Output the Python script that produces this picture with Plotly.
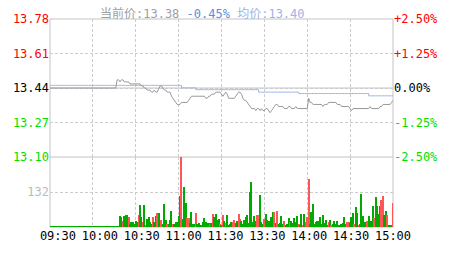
import plotly.graph_objects as go

# ---------------- data ----------------
prev_close = 13.44
minutes = list(range(241))
time_labels = ["09:30", "10:00", "10:30", "11:00", "11:30", "13:30", "14:00", "14:30", "15:00"]
time_ticks = [0, 30, 60, 90, 120, 150, 180, 210, 240]
pct_ticks = [2.5, 1.25, 0.0, -1.25, -2.5]
vol_max = 264

price = [
    13.44, 13.44, 13.44, 13.44, 13.44, 13.44, 13.44, 13.44, 13.44, 13.44,
    13.44, 13.44, 13.44, 13.44, 13.44, 13.44, 13.44, 13.44, 13.44, 13.44,
    13.44, 13.44, 13.44, 13.44, 13.44, 13.44, 13.44, 13.44, 13.44, 13.44,
    13.44, 13.44, 13.44, 13.44, 13.44, 13.44, 13.44, 13.44, 13.44, 13.44,
    13.44, 13.44, 13.44, 13.44, 13.44, 13.44, 13.44, 13.48, 13.48, 13.47,
    13.48, 13.48, 13.47, 13.47, 13.47, 13.47, 13.46, 13.46, 13.46, 13.46,
    13.46, 13.46, 13.46, 13.46, 13.45, 13.45, 13.44, 13.44, 13.43, 13.43,
    13.43, 13.42, 13.42, 13.43, 13.42, 13.42, 13.44, 13.45, 13.45, 13.44,
    13.43, 13.43, 13.42, 13.42, 13.42, 13.40, 13.39, 13.38, 13.37, 13.36,
    13.36, 13.36, 13.37, 13.37, 13.37, 13.37, 13.37, 13.38, 13.39, 13.40,
    13.40, 13.40, 13.40, 13.40, 13.40, 13.40, 13.40, 13.40, 13.40, 13.39,
    13.39, 13.40, 13.40, 13.41, 13.41, 13.41, 13.42, 13.42, 13.42, 13.42,
    13.41, 13.40, 13.41, 13.42, 13.41, 13.39, 13.39, 13.39, 13.39, 13.39,
    13.40, 13.41, 13.42, 13.42, 13.41, 13.39, 13.38, 13.38, 13.37, 13.36,
    13.35, 13.34, 13.34, 13.34, 13.33, 13.34, 13.34, 13.33, 13.34, 13.33,
    13.33, 13.34, 13.34, 13.33, 13.32, 13.33, 13.34, 13.35, 13.36, 13.36,
    13.35, 13.35, 13.35, 13.35, 13.34, 13.34, 13.34, 13.35, 13.35, 13.34,
    13.34, 13.34, 13.35, 13.34, 13.34, 13.34, 13.34, 13.34, 13.34, 13.34,
    13.34, 13.39, 13.37, 13.37, 13.36, 13.36, 13.36, 13.36, 13.36, 13.36,
    13.36, 13.35, 13.36, 13.36, 13.36, 13.37, 13.37, 13.37, 13.37, 13.37,
    13.37, 13.36, 13.36, 13.36, 13.35, 13.35, 13.35, 13.35, 13.35, 13.35,
    13.34, 13.33, 13.34, 13.34, 13.34, 13.34, 13.34, 13.34, 13.34, 13.34,
    13.34, 13.34, 13.34, 13.34, 13.35, 13.34, 13.34, 13.34, 13.34, 13.34,
    13.34, 13.35, 13.35, 13.36, 13.36, 13.36, 13.36, 13.36, 13.36, 13.37,
    13.38,
]

avg_price = [
    13.453, 13.453, 13.453, 13.453, 13.453, 13.453, 13.453, 13.453, 13.453, 13.453,
    13.453, 13.453, 13.453, 13.453, 13.453, 13.453, 13.453, 13.453, 13.453, 13.453,
    13.453, 13.453, 13.453, 13.453, 13.453, 13.453, 13.453, 13.453, 13.453, 13.453,
    13.453, 13.453, 13.453, 13.453, 13.453, 13.453, 13.453, 13.453, 13.453, 13.453,
    13.453, 13.453, 13.453, 13.453, 13.453, 13.453, 13.453, 13.453, 13.453, 13.453,
    13.453, 13.453, 13.453, 13.453, 13.453, 13.453, 13.453, 13.453, 13.453, 13.453,
    13.453, 13.453, 13.453, 13.453, 13.453, 13.453, 13.453, 13.453, 13.453, 13.453,
    13.453, 13.453, 13.453, 13.453, 13.453, 13.453, 13.453, 13.453, 13.453, 13.453,
    13.453, 13.453, 13.453, 13.453, 13.453, 13.453, 13.453, 13.453, 13.453, 13.453,
    13.453, 13.453, 13.441, 13.441, 13.441, 13.441, 13.441, 13.441, 13.441, 13.441,
    13.441, 13.441, 13.432, 13.432, 13.432, 13.432, 13.432, 13.432, 13.432, 13.432,
    13.432, 13.432, 13.432, 13.432, 13.432, 13.432, 13.432, 13.432, 13.432, 13.432,
    13.432, 13.432, 13.432, 13.432, 13.432, 13.432, 13.432, 13.432, 13.432, 13.432,
    13.432, 13.432, 13.432, 13.432, 13.432, 13.432, 13.432, 13.432, 13.432, 13.432,
    13.432, 13.432, 13.432, 13.432, 13.432, 13.432, 13.420, 13.420, 13.420, 13.420,
    13.420, 13.420, 13.420, 13.420, 13.420, 13.420, 13.420, 13.420, 13.420, 13.420,
    13.420, 13.420, 13.420, 13.420, 13.420, 13.420, 13.420, 13.420, 13.420, 13.420,
    13.420, 13.420, 13.420, 13.420, 13.413, 13.413, 13.413, 13.413, 13.413, 13.413,
    13.413, 13.413, 13.413, 13.413, 13.413, 13.413, 13.413, 13.413, 13.413, 13.413,
    13.413, 13.413, 13.413, 13.413, 13.413, 13.413, 13.413, 13.413, 13.413, 13.413,
    13.413, 13.413, 13.413, 13.413, 13.413, 13.413, 13.413, 13.413, 13.413, 13.413,
    13.413, 13.413, 13.413, 13.413, 13.413, 13.413, 13.413, 13.413, 13.413, 13.413,
    13.413, 13.413, 13.413, 13.402, 13.402, 13.402, 13.402, 13.402, 13.402, 13.402,
    13.402, 13.402, 13.402, 13.402, 13.402, 13.402, 13.402, 13.402, 13.402, 13.402,
    13.402,
]

volume = [
    3, 3, 3, 3, 3, 3, 3, 3, 3, 3,
    3, 3, 3, 3, 3, 3, 3, 3, 3, 3,
    3, 3, 3, 3, 3, 3, 3, 3, 3, 3,
    3, 3, 3, 3, 3, 3, 3, 3, 3, 3,
    3, 3, 3, 3, 3, 3, 3, 3, 3,
    42, 36, 24, 42, 45, 45, 38, 10, 20, 20,
    10, 24, 20, 45, 82, 36, 20, 82, 6, 30,
    36, 18, 10, 38, 18, 40, 54, 54, 12, 28,
    10, 86, 28, 10, 10, 28, 60, 12, 10, 20,
    18, 42, 118, 264, 30, 150, 92, 34, 34, 14,
    56, 10, 12, 52, 12, 16, 8, 8, 20, 34,
    18, 14, 16, 10, 14, 48, 38, 48, 28, 30,
    12, 6, 44, 24, 16, 44, 6, 10, 20, 18,
    28, 16, 24, 48, 30, 24, 12, 28, 36, 45,
    16, 132, 168, 20, 42, 24, 44, 44, 120,
    20, 12, 30, 48, 28, 24, 20, 38, 56, 56,
    16, 60, 12, 16, 42, 10, 24, 6, 10, 35,
    18, 24, 16, 32, 20, 42, 12, 6, 48, 6,
    48, 20, 36, 182, 12, 58, 88, 10, 20, 24,
    24, 38, 10, 45, 16, 28, 6, 20, 28, 6,
    12, 24, 10, 24, 8, 8, 10, 14, 36, 12, 20,
    18, 16, 36, 54, 12, 74, 54, 8, 10, 126,
    40, 18, 18, 24, 42, 18, 24, 78, 32, 112,
    78, 48, 80, 100, 118, 45, 60, 45, 4, 4, 4, 90,
]

# 'r' = up tick (red), 'g' = down/flat tick (green)
vol_dir = (
    "g" * 49
    + "ggrgggrggg" + "gggrggrgrg" + "gggrggrggr" + "gggrgggrgg" + "gggrgggrrg"
    + "gggrgggggg" + "gggrgrgggg" + "rgrgrggggr" + "rggrrggggg" + "ggggggrrg"
    + "ggrggggggr" + "grggggrggg" + "rgggggrggr" + "grrrgggggg" + "gggggggrgr"
    + "ggggggggggr" + "rgggrggrgg" + "gggrggggrg" + "gggrrggrgggr"
)

# ---------------- derived ----------------
up_color, down_color = "#ff5555", "#00aa00"
bar_colors = [up_color if d == "r" else down_color for d in vol_dir]
last_price = price[-1]
last_pct = (last_price - prev_close) / prev_close * 100
last_avg = avg_price[-1]

price_ticks = [prev_close * (1 + p / 100) for p in pct_ticks]
red, green, black = "#ff0000", "#00e000", "#000000"
def tick_color(p):
    return red if p > 0 else (green if p < 0 else black)
left_text = [f"<span style='color:{tick_color(p)}'>{v:.2f}</span>" for p, v in zip(pct_ticks, price_ticks)]
right_text = [
    f"<span style='color:{tick_color(p)}'>{'+' if p > 0 else ''}{p:.2f}%</span>" for p in pct_ticks
]

vol_frac = 74 / 220  # share of plot height taken by the volume pane
grid_col = "#cccccc"
font_family = "DejaVu Sans Mono, Noto Sans CJK SC"

fig = go.Figure()
fig.add_trace(go.Bar(
    x=minutes, y=volume, marker=dict(color=bar_colors, line=dict(width=0)),
    width=0.85, xaxis="x", yaxis="y2", hoverinfo="skip",
))
fig.add_trace(go.Scatter(
    x=minutes, y=avg_price, mode="lines", line=dict(color="#9bb5e8", width=1, shape="hv"),
    xaxis="x2", yaxis="y", hoverinfo="skip",
))
fig.add_trace(go.Scatter(
    x=minutes, y=price, mode="lines", line=dict(color="#999999", width=1),
    xaxis="x2", yaxis="y", hoverinfo="skip",
))
fig.add_trace(go.Scatter(x=[None], y=[None], xaxis="x3", yaxis="y2", hoverinfo="skip"))
fig.add_trace(go.Scatter(x=[None], y=[None], xaxis="x2", yaxis="y3", hoverinfo="skip"))

common_x = dict(range=[0, 240], tickvals=time_ticks, showticklabels=False, showgrid=True,
                gridcolor=grid_col, griddash="3px,2px", gridwidth=1, zeroline=False,
                showline=False, ticks="", fixedrange=True)

fig.update_layout(
    width=463, height=255,
    margin=dict(l=50, r=70, t=12, b=23),
    paper_bgcolor="white", plot_bgcolor="white",
    showlegend=False, bargap=0,
    font=dict(family=font_family, size=12, color="#000000"),
    xaxis=dict(domain=[0, 1], anchor="y2", **common_x),
    xaxis2=dict(domain=[0, 1], anchor="y", matches="x", **common_x),
    xaxis3=dict(overlaying="x", anchor="y2", side="bottom", range=[-5.7, 240],
                tickvals=time_ticks, ticktext=time_labels, showgrid=False, zeroline=False,
                showline=False, ticks="", tickfont=dict(color="#000000", size=12)),
    yaxis=dict(domain=[vol_frac, 1], anchor="x2", range=[price_ticks[-1], price_ticks[0]],
               tickvals=price_ticks, ticktext=left_text, showgrid=True, gridcolor=grid_col,
               griddash="3px,2px", zeroline=False, showline=False, ticks=""),
    yaxis2=dict(domain=[0, vol_frac], anchor="x", range=[0, vol_max],
                tickvals=[vol_max / 2], ticktext=[f"{vol_max // 2}"],
                tickfont=dict(color="#bbbbbb"), showgrid=True, gridcolor=grid_col,
                griddash="3px,2px", zeroline=False, showline=False, ticks=""),
    yaxis3=dict(overlaying="y", anchor="x2", side="right", range=[pct_ticks[-1], pct_ticks[0]],
                tickvals=pct_ticks, ticktext=right_text, showgrid=False, zeroline=False,
                showline=False, ticks=""),
    shapes=[
        dict(type="rect", xref="paper", yref="paper", x0=0, x1=1, y0=0, y1=1,
             line=dict(color="#c4c4c4", width=1), layer="below"),
        dict(type="line", xref="paper", yref="y", x0=0, x1=1, y0=prev_close, y1=prev_close,
             line=dict(color="#c4c4c4", width=1), layer="below"),
        dict(type="line", xref="paper", yref="paper", x0=0, x1=1, y0=vol_frac, y1=vol_frac,
             line=dict(color="#c4c4c4", width=1), layer="below"),
    ],
    annotations=[
        dict(xref="paper", yref="paper", x=(202.5 - 50) / 343, y=1, yshift=6,
             xanchor="center", yanchor="middle", showarrow=False,
             font=dict(family=font_family, size=12),
             text=(f"<span style='color:#a0a0a0'>当前价:{last_price:.2f}</span> "
                   f"<span style='color:#5b8ee6'>{last_pct:.2f}%</span> "
                   f"<span style='color:#9bb5e8'>均价:{last_avg:.2f}</span>")),
    ],
)

fig.write_html("out.html")
